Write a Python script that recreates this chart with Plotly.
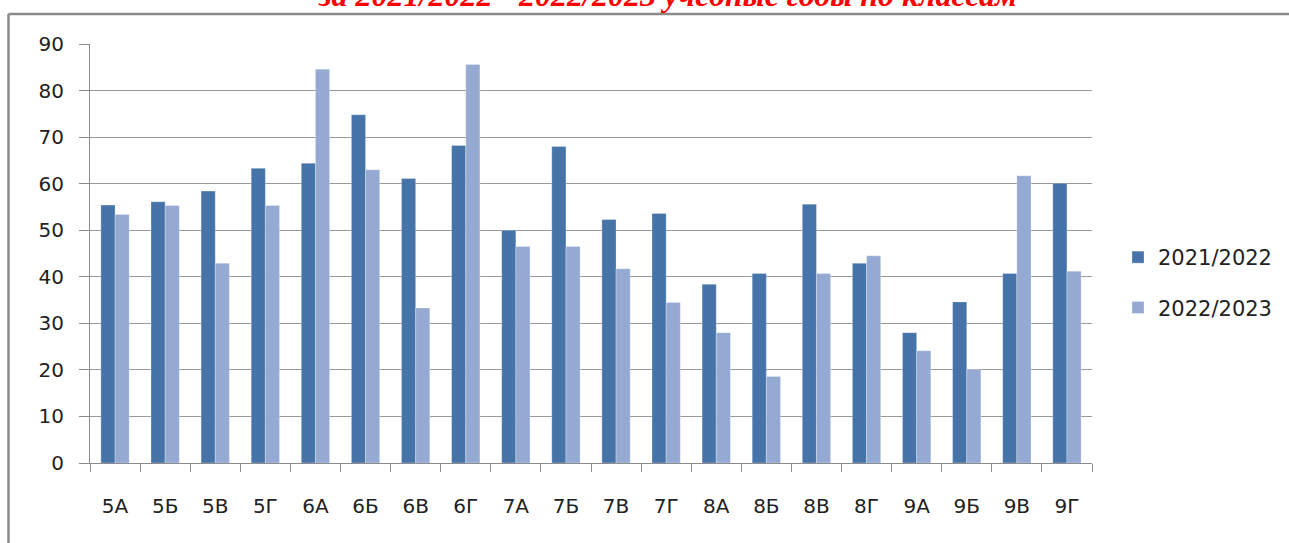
import plotly.graph_objects as go

classes = ["5А", "5Б", "5В", "5Г", "6А", "6Б", "6В", "6Г", "7А", "7Б",
           "7В", "7Г", "8А", "8Б", "8В", "8Г", "9А", "9Б", "9В", "9Г"]
y2021_2022 = [55.4, 56.1, 58.4, 63.3, 64.4, 74.8, 61.1, 68.2, 50.0, 68.0,
              52.3, 53.6, 38.4, 40.7, 55.6, 42.9, 28.0, 34.6, 40.7, 60.1]
y2022_2023 = [53.4, 55.3, 42.9, 55.3, 84.6, 63.0, 33.3, 85.6, 46.5, 46.5,
              41.7, 34.5, 28.0, 18.6, 40.7, 44.5, 24.1, 20.1, 61.7, 41.2]
series_names = ["2021/2022", "2022/2023"]
title_text = "за 2021/2022 - 2022/2023 учебные годы по классам"
y_ticks = [0, 10, 20, 30, 40, 50, 60, 70, 80, 90]

W, H = 1289, 543
# plot area in window pixels: x 90..1092, y 44..463
L, R, T, B = 90, 1289 - 1092, 44, 543 - 463
pw, ph = W - L - R, H - T - B

def px_x(x):
    return (x - L) / pw

def px_y(y):
    return (H - B - y) / ph

dark = "#4673A8"
light = "#95AAD2"
txt = "#222222"
grid = "#999999"

fig = go.Figure()
fig.add_trace(go.Bar(x=classes, y=y2021_2022, name=series_names[0],
                     marker=dict(color=dark, line=dict(color="rgba(255,255,255,0.35)", width=0.8)),
                     legendgroup="a"))
fig.add_trace(go.Bar(x=classes, y=y2022_2023, name=series_names[1],
                     marker=dict(color=light, line=dict(color="rgba(255,255,255,0.35)", width=0.8)),
                     legendgroup="b"))

fig.update_layout(
    width=W, height=H,
    margin=dict(l=L, r=R, t=T, b=B, autoexpand=False),
    paper_bgcolor="white", plot_bgcolor="white",
    barmode="group", bargap=0.435, bargroupgap=0,
    font=dict(family="DejaVu Sans", size=20, color=txt),
    showlegend=True,
    legend=dict(x=px_x(1118), y=px_y(282.5), xanchor="left", yanchor="middle",
                tracegroupgap=20, font=dict(size=21, color=txt),
                bgcolor="rgba(0,0,0,0)", itemclick=False),
    xaxis=dict(showline=True, linecolor="#8c8c8c", linewidth=1,
               ticks="outside", tickson="boundaries", ticklen=8, tickcolor="#8c8c8c",
               showgrid=False, ticklabelstandoff=25, fixedrange=True),
    yaxis=dict(range=[0, 90], tickvals=y_ticks, showline=True, linecolor="#8c8c8c",
               linewidth=1, ticks="outside", ticklen=10, tickcolor="#8c8c8c",
               showgrid=True, gridcolor=grid, gridwidth=1, zeroline=False,
               ticklabelstandoff=11, fixedrange=True),
)

# outer frame of the chart area (top and left edges; the rest lies beyond the picture)
frame = dict(color="#8a8a8a", width=2.5)
fig.add_shape(type="line", xref="paper", yref="paper",
              x0=px_x(8.5), x1=px_x(1289), y0=px_y(14), y1=px_y(14), line=frame, layer="below")
fig.add_shape(type="line", xref="paper", yref="paper",
              x0=px_x(8.5), x1=px_x(8.5), y0=px_y(14), y1=px_y(543), line=frame, layer="below")

fig.add_annotation(text="<b><i>" + title_text + "</i></b>", xref="paper", yref="paper",
                   x=px_x(667), y=px_y(15), xanchor="center", yanchor="bottom",
                   showarrow=False,
                   font=dict(family="Liberation Serif", size=32, color="#ff0000"))

fig.write_html(
    "out.html",
    config={"displayModeBar": False},
    post_script=(
        "document.documentElement.style.margin='0';"
        "document.documentElement.style.overflow='hidden';"
        "document.body.style.margin='0';"
        "document.body.style.overflow='hidden';"
    ),
)
